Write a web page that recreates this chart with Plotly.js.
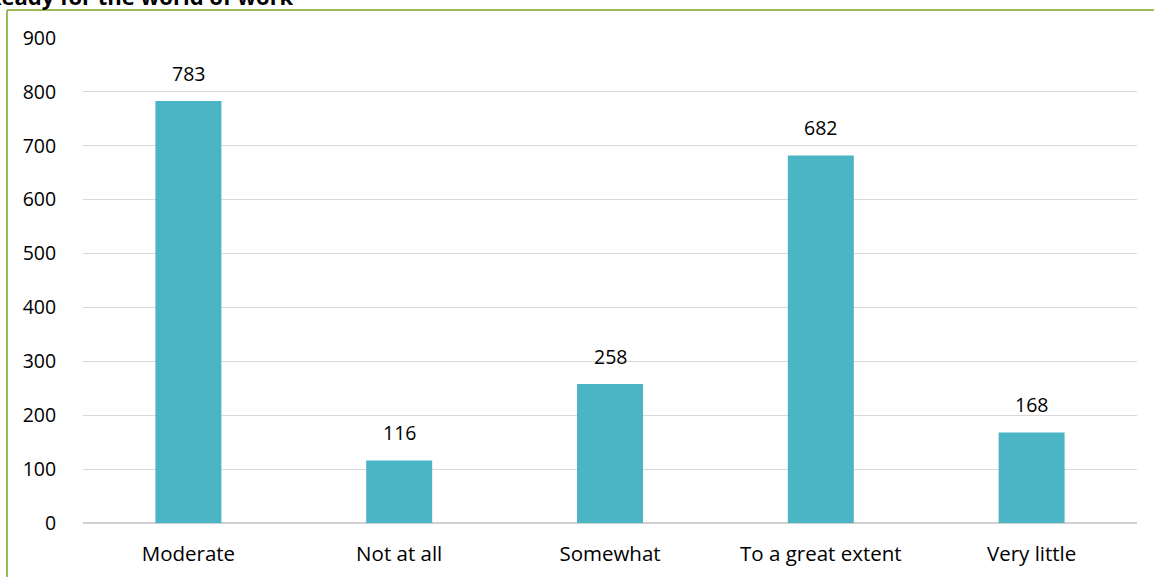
<!DOCTYPE html>
<html>
<head>
<meta charset="utf-8">
<script src="https://cdn.plot.ly/plotly-3.0.1.min.js"></script>
<style>html,body{margin:0;padding:0;background:#fff;}#chart{width:1154px;height:577px;}</style>
</head>
<body>
<div id="chart"></div>
<script>
const categories = ["Moderate", "Not at all", "Somewhat", "To a great extent", "Very little"];
const counts = [783, 116, 258, 682, 168];
const yTicks = [0, 100, 200, 300, 400, 500, 600, 700, 800, 900];
const titleText = "Ready for the world of work";

const W = 1154, H = 577;
const m = {l: 83, r: 17, t: 38, b: 54};
const pw = W - m.l - m.r, ph = H - m.t - m.b;
const px = x => (x - m.l) / pw;
const py = y => (H - m.b - y) / ph;
const FONT = "'Open Sans', sans-serif";

const trace = {
  type: 'bar', x: categories, y: counts,
  marker: {color: '#4bb5c5'},
  hoverinfo: 'x+y'
};

const annotations = categories.map((c, i) => ({
  x: c, y: counts[i], xref: 'x', yref: 'y',
  text: String(counts[i]), showarrow: false,
  yanchor: 'bottom', yshift: 12,
  font: {family: FONT, size: 19.5, color: '#000'}
}));
annotations.push({
  xref: 'paper', yref: 'paper', x: px(-15), y: py(-4),
  xanchor: 'left', yanchor: 'middle', showarrow: false,
  text: '<b>' + titleText + '</b>',
  font: {family: FONT, size: 22, color: '#000'}
});

const border = '#9bbb59';
const shapes = [
  {type: 'line', xref: 'paper', yref: 'paper', x0: px(7), x1: px(7), y0: py(10), y1: py(600), line: {color: border, width: 2}},
  {type: 'line', xref: 'paper', yref: 'paper', x0: px(7), x1: px(1200), y0: py(10), y1: py(10), line: {color: border, width: 2}}
];

const layout = {
  width: W, height: H,
  margin: m,
  paper_bgcolor: '#fff', plot_bgcolor: '#fff',
  showlegend: false,
  bargap: 0.687,
  font: {family: FONT, size: 19, color: '#000'},
  xaxis: {
    type: 'category', showgrid: false, showline: false, zeroline: false,
    ticks: 'outside', ticklen: 12, tickcolor: 'rgba(0,0,0,0)',
    tickfont: {family: FONT, size: 20.5, color: '#000'}
  },
  yaxis: {
    range: [0, 900], tickvals: yTicks, ticktext: yTicks.map(String),
    showgrid: true, gridcolor: '#d9d9d9', gridwidth: 1,
    zeroline: true, zerolinecolor: '#d0d0d0', zerolinewidth: 2,
    showline: false,
    ticks: 'outside', ticklen: 22, tickcolor: 'rgba(0,0,0,0)',
    tickfont: {family: FONT, size: 19.5, color: '#000'}
  },
  annotations: annotations,
  shapes: shapes
};

Plotly.newPlot('chart', [trace], layout, {displayModeBar: false, staticPlot: true});
</script>
</body>
</html>
